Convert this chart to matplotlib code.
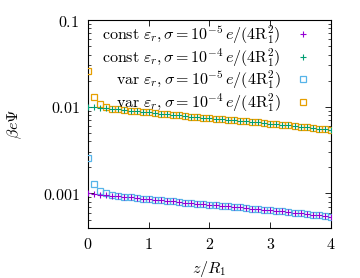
import numpy as np
import matplotlib
matplotlib.use("Agg")
import matplotlib.pyplot as plt

plt.rcParams['mathtext.fontset'] = 'cm'
plt.rcParams['font.family'] = 'serif'
plt.rcParams['font.serif'] = ['DejaVu Serif']

# z/R1 positions (0 .. 4 in steps of 0.1)
z = [round(0.1 * i, 1) for i in range(41)]

# const eps_r, sigma = 1e-4
const_hi = [0.0100, 0.0099, 0.0097, 0.0096, 0.0094, 0.0093, 0.0091, 0.0090, 0.0089, 0.0087,
            0.0086, 0.0085, 0.0083, 0.0082, 0.0081, 0.0080, 0.0078, 0.0077, 0.0076, 0.0075,
            0.0074, 0.0073, 0.0072, 0.0071, 0.0070, 0.0069, 0.0068, 0.0067, 0.0066, 0.0065,
            0.0064, 0.0063, 0.0062, 0.0061, 0.0060, 0.0059, 0.0058, 0.0057, 0.0056, 0.0055,
            0.0054]
# const eps_r, sigma = 1e-5
const_lo = [0.00100, 0.00099, 0.00097, 0.00096, 0.00094, 0.00093, 0.00091, 0.00090, 0.00089, 0.00087,
            0.00086, 0.00085, 0.00083, 0.00082, 0.00081, 0.00080, 0.00078, 0.00077, 0.00076, 0.00075,
            0.00074, 0.00073, 0.00072, 0.00071, 0.00070, 0.00069, 0.00068, 0.00067, 0.00066, 0.00065,
            0.00064, 0.00063, 0.00062, 0.00061, 0.00060, 0.00059, 0.00058, 0.00057, 0.00056, 0.00055,
            0.00054]
# var eps_r, sigma = 1e-4
var_hi = [0.0260, 0.0131, 0.0108, 0.0100, 0.0095, 0.0093, 0.0091, 0.0090, 0.0089, 0.0087,
          0.0086, 0.0085, 0.0083, 0.0082, 0.0081, 0.0080, 0.0078, 0.0077, 0.0076, 0.0075,
          0.0074, 0.0073, 0.0072, 0.0071, 0.0070, 0.0069, 0.0068, 0.0067, 0.0066, 0.0065,
          0.0064, 0.0063, 0.0062, 0.0061, 0.0060, 0.0059, 0.0058, 0.0057, 0.0056, 0.0055,
          0.0054]
# var eps_r, sigma = 1e-5
var_lo = [0.00257, 0.00129, 0.00108, 0.00100, 0.00095, 0.00093, 0.00091, 0.00090, 0.00089, 0.00087,
          0.00086, 0.00085, 0.00083, 0.00082, 0.00081, 0.00080, 0.00078, 0.00077, 0.00076, 0.00075,
          0.00074, 0.00073, 0.00072, 0.00071, 0.00070, 0.00069, 0.00068, 0.00067, 0.00066, 0.00065,
          0.00064, 0.00063, 0.00062, 0.00061, 0.00060, 0.00059, 0.00058, 0.00057, 0.00056, 0.00055,
          0.00054]

labels = [r'$\mathrm{const}\ \varepsilon_r, \sigma = 10^{-5}\, e/(4\mathrm{R}_1^2)$',
          r'$\mathrm{const}\ \varepsilon_r, \sigma = 10^{-4}\, e/(4\mathrm{R}_1^2)$',
          r'$\mathrm{var}\ \varepsilon_r, \sigma = 10^{-5}\, e/(4\mathrm{R}_1^2)$',
          r'$\mathrm{var}\ \varepsilon_r, \sigma = 10^{-4}\, e/(4\mathrm{R}_1^2)$']

fig = plt.figure(figsize=(3.6, 2.78), dpi=100)
ax = fig.add_axes([0.2444, 0.180, 0.675, 0.748])

ax.plot(z, const_lo, linestyle='none', marker='+', ms=4, mew=0.8, color='#9400D3', label=labels[0], zorder=4)
ax.plot(z, const_hi, linestyle='none', marker='+', ms=4, mew=0.8, color='#009E73', label=labels[1], zorder=4)
ax.plot(z, var_lo, linestyle='none', marker='s', ms=4.5, mew=0.9, mfc='none', color='#56B4E9', label=labels[2], zorder=3)
ax.plot(z, var_hi, linestyle='none', marker='s', ms=4.5, mew=0.9, mfc='none', color='#E69F00', label=labels[3], zorder=3)

ax.set_yscale('log')
ax.set_xlim(0, 4)
ax.set_ylim(4e-4, 0.1)
ax.set_xticks([0, 1, 2, 3, 4])
ax.set_xticklabels([f'${v}$' for v in [0, 1, 2, 3, 4]], fontsize=11.5)
ax.set_yticks([0.001, 0.01, 0.1])
ax.set_yticklabels([r'$0.001$', r'$0.01$', r'$0.1$'], fontsize=11.5)
ax.tick_params(which='both', direction='in', top=True, right=True)
ax.tick_params(which='major', length=4, width=0.6, pad=6)
ax.tick_params(which='minor', length=2, width=0.5)
ax.yaxis.set_minor_formatter(matplotlib.ticker.NullFormatter())
for s in ax.spines.values():
    s.set_linewidth(0.8)

ax.set_xlabel(r'$z/R_1$', fontsize=11.5)
ax.set_ylabel(r'$\beta e \Psi$', fontsize=11.5)
ax.yaxis.set_label_coords(-0.265, 0.5)
ax.xaxis.set_label_coords(0.5, -0.15)

ax.legend(loc='upper right', bbox_to_anchor=(0.93, 1.0), frameon=False, markerfirst=False,
          fontsize=11.5, handlelength=1.0, handletextpad=0.9, labelspacing=0.02,
          borderaxespad=0.0, borderpad=0.2, markerscale=1.0)

fig.savefig('out.png', dpi=100, facecolor='white')
